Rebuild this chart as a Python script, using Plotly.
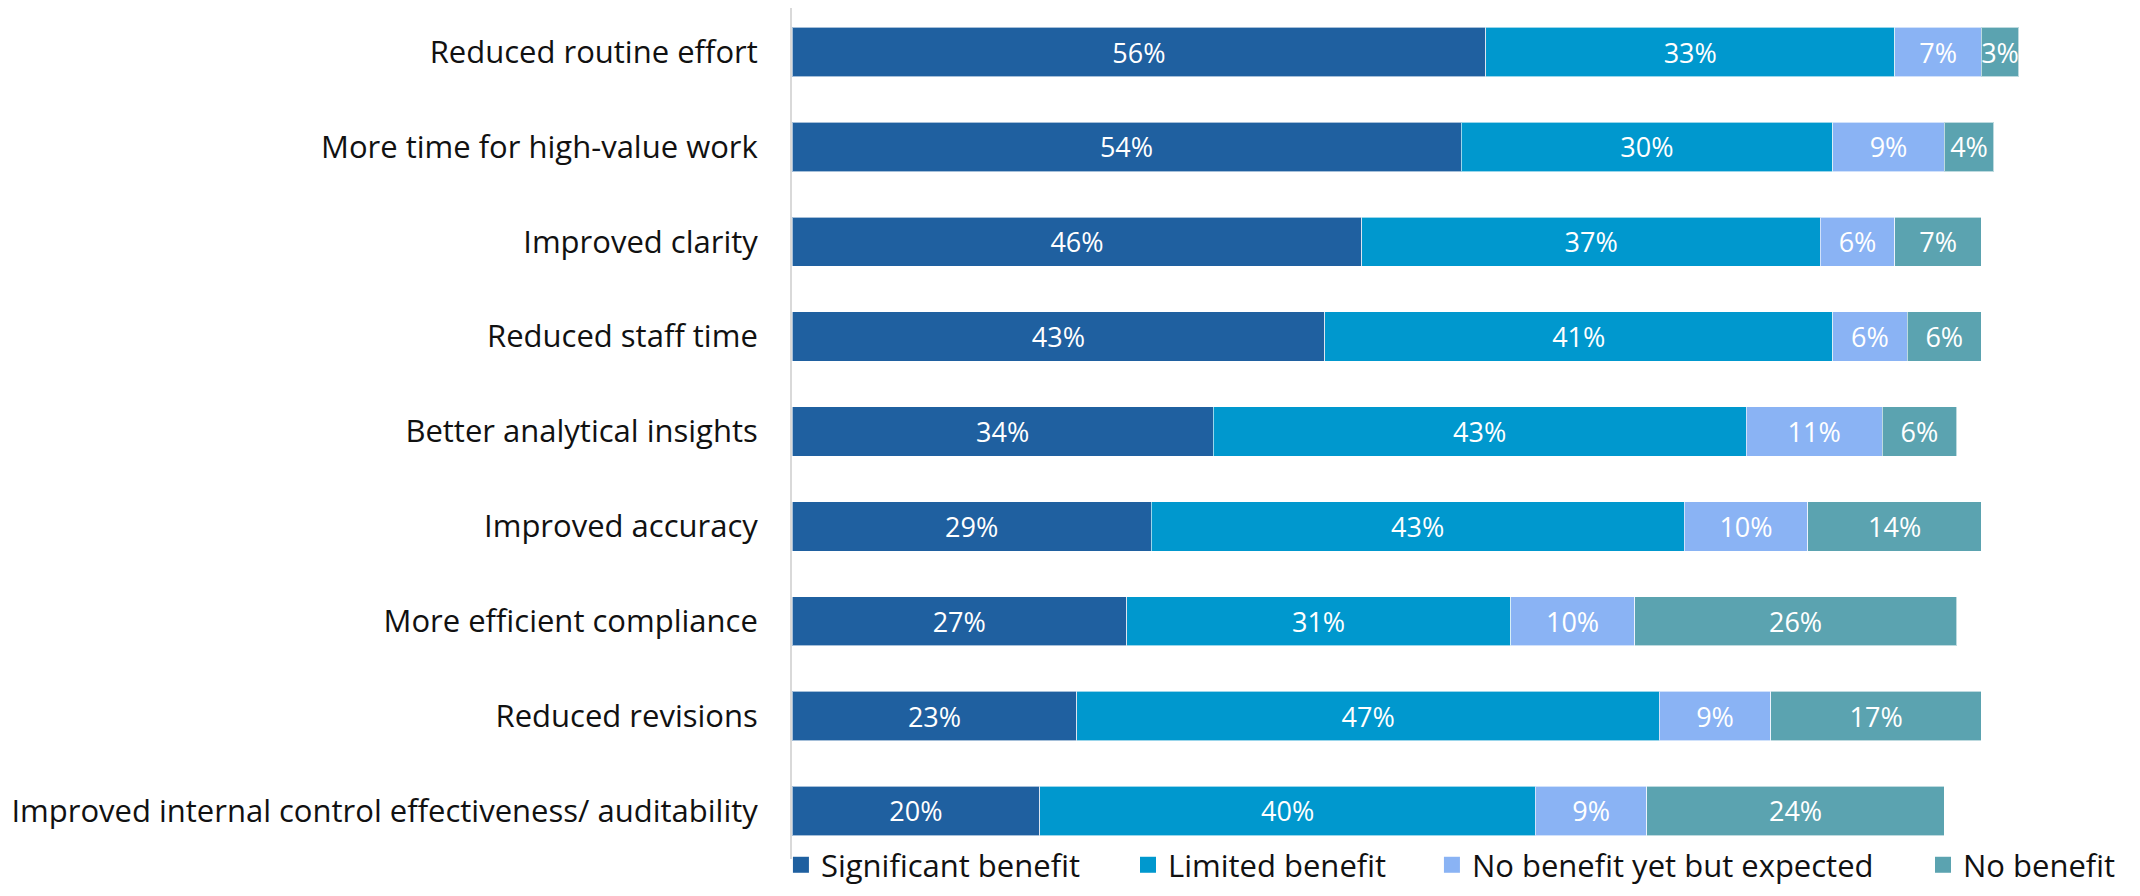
import plotly.graph_objects as go

categories = [
    "Reduced routine effort",
    "More time for high-value work",
    "Improved clarity",
    "Reduced staff time",
    "Better analytical insights",
    "Improved accuracy",
    "More efficient compliance",
    "Reduced revisions",
    "Improved internal control effectiveness/ auditability",
]
significant = [56, 54, 46, 43, 34, 29, 27, 23, 20]
limited = [33, 30, 37, 41, 43, 43, 31, 47, 40]
expected = [7, 9, 6, 6, 11, 10, 10, 9, 9]
no_benefit = [3, 4, 7, 6, 6, 14, 26, 17, 24]

series_names = ["Significant benefit", "Limited benefit", "No benefit yet but expected", "No benefit"]
series_values = [significant, limited, expected, no_benefit]
series_colors = ["#1F60A0", "#0098CE", "#8AB3F4", "#5BA3B0"]
legend_lefts = [0.3639, 0.5273, 0.6704, 0.9016]  # container fractions

FONT = "Open Sans"
W, H = 2124, 880  # page body adds an 8px margin
fig = go.Figure()
for name, vals, color in zip(series_names, series_values, series_colors):
    fig.add_trace(go.Bar(
        y=categories, x=vals, name=name, orientation="h", showlegend=False,
        marker=dict(color=color, line=dict(color="rgba(255,255,255,0.6)", width=1)),
        text=[f"{v}%" for v in vals], textposition="inside",
        insidetextanchor="middle", textangle=0, constraintext="none",
        textfont=dict(color="white", size=27, family=FONT),
        hoverinfo="skip",
    ))

legend_layout = {}
for i, (name, color, lx) in enumerate(zip(series_names, series_colors, legend_lefts)):
    key = "legend" if i == 0 else f"legend{i+1}"
    fig.add_trace(go.Scatter(
        x=[None], y=[None], mode="markers", name=name, legend=key,
        marker=dict(symbol="square", size=19, color=color), showlegend=True,
    ))
    legend_layout[key] = dict(
        orientation="h", xref="container", yref="container",
        x=lx, xanchor="left", y=0.026, yanchor="middle",
        font=dict(size=31, family=FONT, color="#111111"),
        bgcolor="rgba(0,0,0,0)", borderwidth=0,
    )

fig.update_layout(
    width=W, height=H,
    barmode="stack", bargap=0.48,
    plot_bgcolor="white", paper_bgcolor="white",
    margin=dict(l=784, r=101, t=0, b=29, autoexpand=False),
    font=dict(family=FONT, size=31, color="#111111"),
    showlegend=True,
    xaxis=dict(range=[0, 100], showgrid=False, zeroline=False, showticklabels=False,
               showline=False),
    yaxis=dict(categoryorder="array", categoryarray=categories, range=[8.506, -0.464],
               showgrid=False, zeroline=False, showline=True, linecolor="#d9d9d9",
               linewidth=2, ticks="", ticklabelstandoff=26,
               tickfont=dict(size=31, family=FONT, color="#111111")),
    **legend_layout,
)

fig.write_html("out.html")
